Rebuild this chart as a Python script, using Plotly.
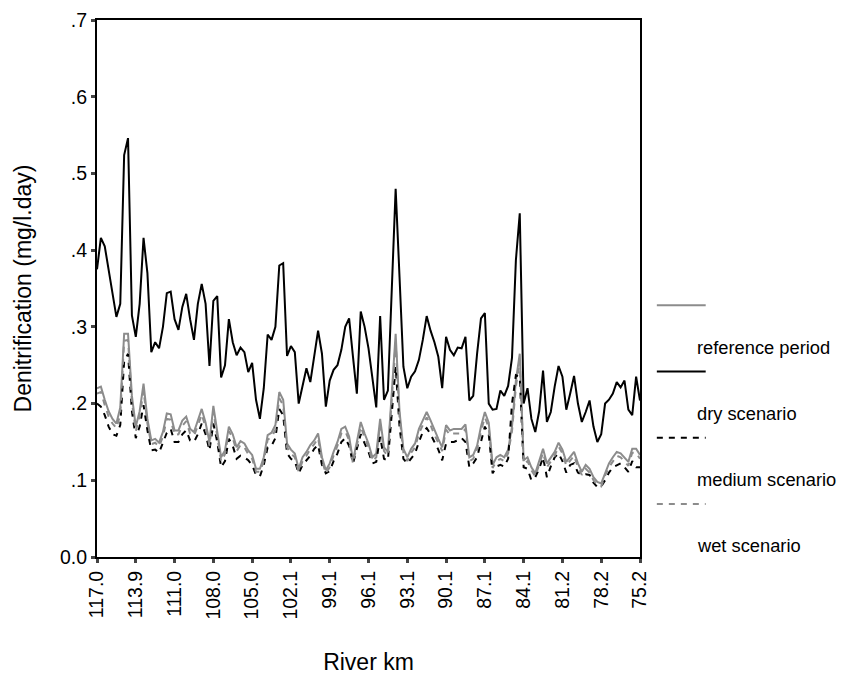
import plotly.graph_objects as go

# ---------------- data ----------------
tick_labels = ["117.0", "113.9", "111.0", "108.0", "105.0", "102.1", "99.1", "96.1",
               "93.1", "90.1", "87.1", "84.1", "81.2", "78.2", "75.2"]

dry = [0.375, 0.416, 0.405, 0.375, 0.345, 0.313, 0.33, 0.524, 0.546, 0.315,
       0.287, 0.33, 0.416, 0.37, 0.267, 0.28, 0.272, 0.30, 0.344, 0.346,
       0.31, 0.296, 0.326, 0.343, 0.31, 0.283, 0.33, 0.356, 0.33, 0.249,
       0.334, 0.34, 0.234, 0.25, 0.31, 0.28, 0.263, 0.273, 0.267, 0.241,
       0.253, 0.205, 0.18, 0.22, 0.29, 0.283, 0.30, 0.38, 0.383, 0.262,
       0.275, 0.267, 0.20, 0.224, 0.246, 0.228, 0.26, 0.295, 0.265, 0.196,
       0.23, 0.244, 0.25, 0.27, 0.30, 0.311, 0.261, 0.213, 0.32, 0.30,
       0.272, 0.23, 0.195, 0.314, 0.205, 0.217, 0.35, 0.48, 0.365, 0.248,
       0.22, 0.235, 0.242, 0.257, 0.283, 0.314, 0.295, 0.28, 0.261, 0.22,
       0.287, 0.27, 0.263, 0.273, 0.272, 0.287, 0.204, 0.21, 0.265, 0.311,
       0.318, 0.20, 0.192, 0.193, 0.217, 0.21, 0.223, 0.26, 0.387, 0.448,
       0.20, 0.22, 0.18, 0.163, 0.19, 0.243, 0.176, 0.189, 0.222, 0.249,
       0.235, 0.192, 0.213, 0.236, 0.2, 0.176, 0.189, 0.204, 0.17, 0.15,
       0.16, 0.2, 0.205, 0.213, 0.228, 0.221, 0.23, 0.192, 0.185, 0.235,
       0.204]

reference = [0.22, 0.222, 0.205, 0.19, 0.18, 0.174, 0.195, 0.291, 0.291, 0.21,
             0.17, 0.19, 0.226, 0.18, 0.152, 0.154, 0.149, 0.163, 0.187, 0.186,
             0.165, 0.165, 0.178, 0.183, 0.167, 0.163, 0.178, 0.193, 0.175, 0.15,
             0.197, 0.16, 0.13, 0.139, 0.17, 0.16, 0.143, 0.151, 0.148, 0.139,
             0.133, 0.115, 0.115, 0.13, 0.159, 0.162, 0.172, 0.215, 0.205, 0.148,
             0.14, 0.135, 0.115, 0.13, 0.137, 0.146, 0.152, 0.161, 0.13, 0.113,
             0.122, 0.137, 0.15, 0.167, 0.17, 0.157, 0.126, 0.15, 0.176, 0.161,
             0.148, 0.13, 0.135, 0.18, 0.143, 0.137, 0.213, 0.291, 0.19, 0.141,
             0.13, 0.141, 0.148, 0.167, 0.178, 0.189, 0.178, 0.165, 0.154, 0.143,
             0.172, 0.165, 0.167, 0.167, 0.167, 0.173, 0.13, 0.133, 0.145, 0.17,
             0.189, 0.175, 0.12, 0.13, 0.133, 0.13, 0.14, 0.17, 0.23, 0.265,
             0.126, 0.13, 0.117, 0.109, 0.125, 0.141, 0.122, 0.13, 0.137, 0.149,
             0.14, 0.124, 0.13, 0.137, 0.122, 0.111, 0.12, 0.115, 0.104, 0.098,
             0.096, 0.11, 0.122, 0.13, 0.137, 0.135, 0.13, 0.124, 0.141, 0.141,
             0.133]

medium = [0.20, 0.196, 0.185, 0.17, 0.16, 0.158, 0.172, 0.255, 0.265, 0.19,
          0.155, 0.17, 0.198, 0.165, 0.139, 0.14, 0.136, 0.15, 0.162, 0.167,
          0.15, 0.15, 0.16, 0.165, 0.152, 0.15, 0.16, 0.174, 0.16, 0.139,
          0.174, 0.15, 0.117, 0.125, 0.154, 0.145, 0.128, 0.132, 0.13, 0.126,
          0.12, 0.107, 0.105, 0.12, 0.143, 0.145, 0.155, 0.193, 0.185, 0.135,
          0.128, 0.125, 0.109, 0.12, 0.126, 0.132, 0.141, 0.146, 0.12, 0.109,
          0.112, 0.125, 0.135, 0.15, 0.155, 0.145, 0.122, 0.14, 0.16, 0.148,
          0.137, 0.122, 0.124, 0.157, 0.128, 0.126, 0.19, 0.248, 0.17, 0.128,
          0.122, 0.128, 0.135, 0.15, 0.163, 0.168, 0.16, 0.15, 0.14, 0.126,
          0.148, 0.15, 0.15, 0.152, 0.155, 0.15, 0.117, 0.122, 0.13, 0.15,
          0.17, 0.16, 0.109, 0.118, 0.12, 0.118, 0.128, 0.2, 0.237, 0.235,
          0.117, 0.115, 0.1, 0.104, 0.115, 0.13, 0.104, 0.118, 0.13, 0.135,
          0.125, 0.11, 0.12, 0.122, 0.11, 0.107, 0.108, 0.107, 0.097, 0.091,
          0.092, 0.1, 0.11, 0.117, 0.12, 0.122, 0.117, 0.111, 0.125, 0.117,
          0.117]

wet = [0.213, 0.215, 0.198, 0.183, 0.174, 0.168, 0.186, 0.282, 0.283, 0.202,
       0.164, 0.183, 0.217, 0.174, 0.147, 0.149, 0.144, 0.157, 0.18, 0.179,
       0.159, 0.16, 0.171, 0.177, 0.161, 0.158, 0.171, 0.186, 0.169, 0.145,
       0.19, 0.155, 0.125, 0.134, 0.164, 0.155, 0.138, 0.146, 0.143, 0.134,
       0.128, 0.111, 0.111, 0.125, 0.153, 0.156, 0.166, 0.207, 0.198, 0.143,
       0.135, 0.13, 0.111, 0.125, 0.132, 0.141, 0.147, 0.155, 0.126, 0.109,
       0.117, 0.132, 0.145, 0.161, 0.164, 0.152, 0.122, 0.145, 0.17, 0.156,
       0.143, 0.125, 0.13, 0.173, 0.138, 0.132, 0.205, 0.28, 0.183, 0.136,
       0.125, 0.136, 0.143, 0.161, 0.172, 0.182, 0.172, 0.159, 0.149, 0.138,
       0.166, 0.159, 0.161, 0.161, 0.161, 0.167, 0.125, 0.128, 0.14, 0.164,
       0.182, 0.169, 0.116, 0.125, 0.128, 0.125, 0.135, 0.164, 0.222, 0.256,
       0.121, 0.125, 0.113, 0.105, 0.12, 0.136, 0.117, 0.125, 0.132, 0.144,
       0.135, 0.119, 0.125, 0.132, 0.117, 0.107, 0.115, 0.11, 0.1, 0.094,
       0.092, 0.106, 0.117, 0.125, 0.132, 0.13, 0.125, 0.119, 0.136, 0.136,
       0.128]

series_names = ["reference period", "dry scenario", "medium scenario", "wet scenario"]
series_values = [reference, dry, medium, wet]
series_colors = ["#8c8c8c", "#000000", "#000000", "#8c8c8c"]
series_dash = ["solid", "solid", "6px,6px", "6px,6px"]

y_ticks = [0.0, 0.1, 0.2, 0.3, 0.4, 0.5, 0.6, 0.7]
y_ticktext = ["0.0", ".1", ".2", ".3", ".4", ".5", ".6", ".7"]

# ---------------- figure ----------------
FONT = "Liberation Sans, Arial, sans-serif"
FS = 19.5
positions = list(range(len(dry)))

fig = go.Figure()
for name, vals, col, dash in zip(series_names, series_values, series_colors, series_dash):
    fig.add_trace(go.Scatter(x=positions, y=vals, mode="lines", name=name,
                             line=dict(color=col, width=2, dash=dash),
                             showlegend=False, hoverinfo="skip"))

# legend drawn SPSS-style: key line above, label below-right
key_x0, key_x1, label_x = 1.031, 1.121, 1.102
key_y0, step, label_dy = 0.469, 0.1235, 0.078
for k, (name, col, dash) in enumerate(zip(series_names, series_colors, series_dash)):
    ky = key_y0 - k * step
    fig.add_shape(type="line", xref="paper", yref="paper", x0=key_x0, x1=key_x1,
                  y0=ky, y1=ky, line=dict(color=col, width=2, dash=dash))
    fig.add_annotation(xref="paper", yref="paper", x=label_x, y=ky - label_dy,
                       text=name, showarrow=False, xanchor="left", yanchor="middle",
                       font=dict(family=FONT, size=18.3, color="black"))

# page body has an 8px margin, so the figure is 8px smaller and shifted
fig.update_layout(
    width=837, height=671,
    margin=dict(l=89, r=205, t=12, b=122),
    paper_bgcolor="white", plot_bgcolor="white",
    font=dict(family=FONT, size=FS, color="black"),
    showlegend=False,
)
fig.update_xaxes(range=[0, len(dry) - 1],
                 tickmode="array", tickvals=positions[::10], ticktext=tick_labels,
                 tickangle=-90, ticks="outside", ticklen=4, tickwidth=3,
                 showline=True, linecolor="black", linewidth=2, mirror=True,
                 showgrid=False, zeroline=False,
                 title=dict(text="River km", standoff=35),
                 tickfont=dict(size=FS), automargin=False)
fig.update_yaxes(range=[0, 0.7], tickmode="array", tickvals=y_ticks, ticktext=y_ticktext,
                 ticks="outside", ticklen=4, tickwidth=3,
                 showline=True, linecolor="black", linewidth=2, mirror=True,
                 showgrid=False, zeroline=False,
                 title=dict(text="Denitrification (mg/l.day)", standoff=22),
                 tickfont=dict(size=FS), automargin=False)

fig.write_html("out.html")
